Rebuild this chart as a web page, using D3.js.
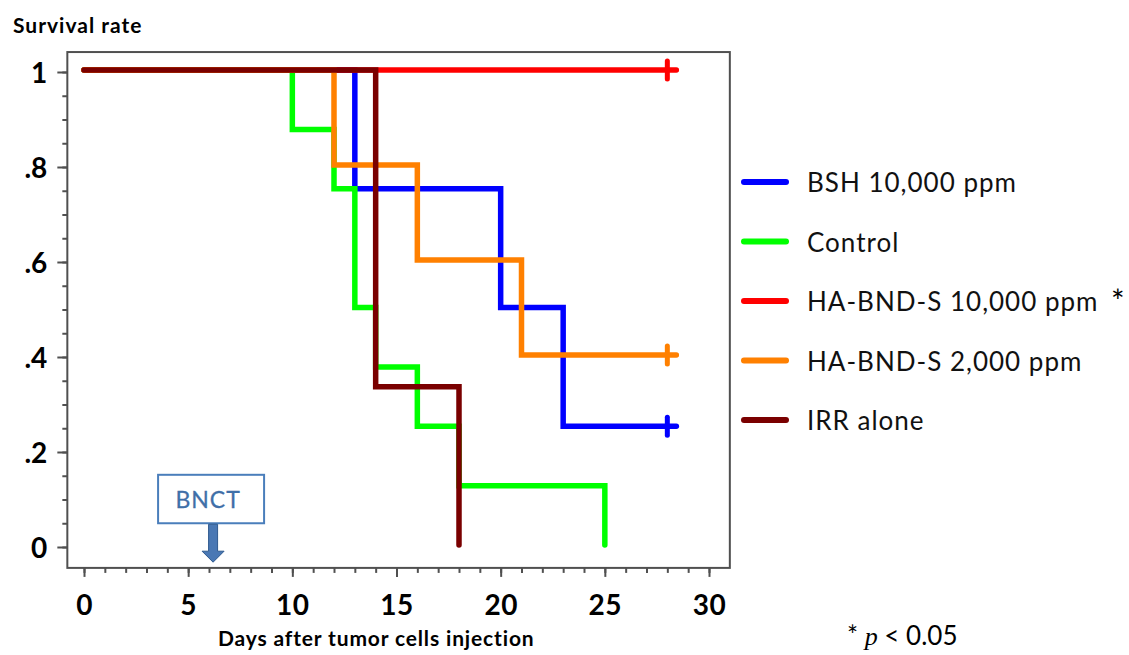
<!DOCTYPE html>
<html>
<head>
<meta charset="utf-8">
<script src="https://cdn.jsdelivr.net/npm/d3@7"></script>
<style>
  body { margin: 0; background: #fff; }
  svg { display: block; }
  .tick text { font-family: Lato, "Open Sans", sans-serif; font-weight: bold; fill: #000; }
</style>
</head>
<body>
<div id="container"></div>
<script>
// ---------------------------- DATA ---------------------------- //
var series_names = ["BSH 10,000 ppm", "Control", "HA-BND-S 10,000 ppm", "HA-BND-S 2,000 ppm", "IRR alone"];
var series_colors = ["#0000ff", "#00ff00", "#ff0000", "#ff8000", "#7a0000"];

// step survival curves: day of each event and survival after it
var days_bsh = [0, 13, 20, 23, 28];
var surv_bsh = [1, 0.75, 0.5, 0.25, 0.25];
var days_control = [0, 10, 12, 13, 14, 16, 18, 25];
var surv_control = [1, 0.875, 0.75, 0.5, 0.375, 0.25, 0.125, 0];
var days_ha10000 = [0, 28];
var surv_ha10000 = [1, 1];
var days_ha2000 = [0, 12, 16, 21, 28];
var surv_ha2000 = [1, 0.8, 0.6, 0.4, 0.4];
var days_irr = [0, 14, 18];
var surv_irr = [1, 0.333, 0];

// censored at end of follow up (day 28)
var censored = [true, false, true, true, false];

var x_ticks = [0, 5, 10, 15, 20, 25, 30];
var y_ticks = [0, 0.2, 0.4, 0.6, 0.8, 1];
var bnct_day = 6;

// --------------------------- SETUP ---------------------------- //
const width = 1129;
const height = 655;

const svg = d3.select("div#container").append("svg")
    .attr("width", width)
    .attr("height", height);

const xScale = d3.scaleLinear().domain([0, 30]).range([84, 709]);
const yScale = d3.scaleLinear().domain([0, 1]).range([547, 72]);

// frame around plot area
svg.append("rect")
    .attr("x", xScale(-0.8))
    .attr("y", yScale(1.042))
    .attr("width", xScale(31) - xScale(-0.8))
    .attr("height", yScale(-0.044) - yScale(1.042))
    .attr("fill", "none")
    .attr("stroke", "#505050")
    .attr("stroke-width", 2);

//---------------------------- AXES ----------------------------- //
const yLeft = xScale(-0.8);
const xBottom = yScale(-0.044);

function fmtY(d) {
  if (d === 1) return "1";
  if (d === 0) return "0";
  return d3.format(".1f")(d).replace("0.", ".");
}

svg.append("g")
    .attr("transform", "translate(" + yLeft + ",0)")
    .call(d3.axisLeft(yScale).tickValues(d3.range(0, 1.001, 0.05)).tickSize(5).tickFormat(""))
    .call(g => g.select(".domain").remove())
    .call(g => g.selectAll("line").attr("stroke", "#505050").attr("stroke-width", 2));

svg.append("g")
    .attr("transform", "translate(" + yLeft + ",0)")
    .call(d3.axisLeft(yScale).tickValues(y_ticks).tickSize(10).tickPadding(10).tickFormat(fmtY))
    .call(g => g.select(".domain").remove())
    .call(g => g.selectAll("line").attr("stroke", "#505050").attr("stroke-width", 2))
    .call(g => g.selectAll("text").style("font-size", "28px").attr("dy", "0.36em"));

svg.append("g")
    .attr("transform", "translate(0," + xBottom + ")")
    .call(d3.axisBottom(xScale).tickValues(d3.range(0, 31, 1)).tickSize(5).tickFormat(""))
    .call(g => g.select(".domain").remove())
    .call(g => g.selectAll("line").attr("stroke", "#505050").attr("stroke-width", 2));

svg.append("g")
    .attr("transform", "translate(0," + xBottom + ")")
    .call(d3.axisBottom(xScale).tickValues(x_ticks).tickSize(9).tickPadding(18))
    .call(g => g.select(".domain").remove())
    .call(g => g.selectAll("line").attr("stroke", "#505050").attr("stroke-width", 2))
    .call(g => g.selectAll("text").style("font-size", "28px").style("letter-spacing", "0.5px"));

svg.append("text")
    .attr("x", 13)
    .attr("y", 33)
    .style("font-family", "Lato, sans-serif")
    .style("font-weight", "bold")
    .style("font-size", "21px")
    .style("letter-spacing", "1px")
    .text("Survival rate");

svg.append("text")
    .attr("x", 218)
    .attr("y", 646)
    .style("font-family", "Lato, sans-serif")
    .style("font-weight", "bold")
    .style("font-size", "21px")
    .style("letter-spacing", "0.85px")
    .text("Days after tumor cells injection");

//---------------------------- BNCT ----------------------------- //
const bx = xScale(bnct_day + 0.1);
const arrowColor = "#4a78b4";
svg.append("rect")
    .attr("x", bx - 53)
    .attr("y", yScale(0.152))
    .attr("width", 106)
    .attr("height", yScale(0.05) - yScale(0.152))
    .attr("fill", "#fff")
    .attr("stroke", "#4a7ebb")
    .attr("stroke-width", 2);

svg.append("text")
    .attr("x", bx - 3)
    .attr("y", yScale(0.1) + 8)
    .attr("text-anchor", "middle")
    .style("font-family", "Lato, sans-serif")
    .style("font-size", "23px")
    .style("letter-spacing", "1px")
    .style("stroke", "#3f6fa8")
    .style("stroke-width", 0.3)
    .style("fill", "#3f6fa8")
    .text("BNCT");

const ay0 = yScale(0.05) + 1, ay1 = yScale(-0.032), ax = bx + 2;
svg.append("path")
    .attr("d", "M" + (ax - 4.5) + "," + ay0 + "V" + (ay1 - 11) + "H" + (ax - 11) +
               "L" + ax + "," + ay1 + "L" + (ax + 11) + "," + (ay1 - 11) +
               "H" + (ax + 4.5) + "V" + ay0 + "Z")
    .attr("fill", arrowColor)
    .attr("stroke", "#2f5a8f")
    .attr("stroke-width", 1);

//---------------------------- LINES ---------------------------- //
const all_days = [days_bsh, days_control, days_ha10000, days_ha2000, days_irr];
const all_surv = [surv_bsh, surv_control, surv_ha10000, surv_ha2000, surv_irr];

const sim_data = series_names.map(function(name, i) {
  return {
    id: name,
    color: series_colors[i],
    censored: censored[i],
    values: all_days[i].map(function(d, j) { return {day: d, surv: all_surv[i][j]}; })
  };
});

const line = d3.line()
    .curve(d3.curveStepAfter)
    .x(function(d) { return xScale(d.day); })
    .y(function(d) { return yScale(d.surv) - 2; });

const lines = svg.selectAll("g.series")
    .data(sim_data)
    .enter()
    .append("g")
    .attr("class", "series");

lines.append("path")
    .attr("d", function(d) { return line(d.values); })
    .attr("fill", "none")
    .attr("stroke", function(d) { return d.color; })
    .attr("stroke-width", 5.5)
    .attr("stroke-linecap", "round")
    .attr("stroke-linejoin", "miter");

// censor marks
lines.filter(function(d) { return d.censored; })
    .each(function(d) {
      const last = d.values[d.values.length - 1];
      const cx = xScale(last.day), cy = yScale(last.surv) - 2;
      const g = d3.select(this);
      g.append("line")
          .attr("x1", cx).attr("x2", cx + 9)
          .attr("y1", cy).attr("y2", cy)
          .attr("stroke", d.color).attr("stroke-width", 5.5).attr("stroke-linecap", "round");
      g.append("line")
          .attr("x1", cx).attr("x2", cx)
          .attr("y1", cy - 9).attr("y2", cy + 9)
          .attr("stroke", d.color).attr("stroke-width", 5).attr("stroke-linecap", "round");
    });

//---------------------------- LEGEND --------------------------- //
const legend = svg.selectAll("g.legend")
    .data(sim_data)
    .enter()
    .append("g")
    .attr("class", "legend")
    .attr("transform", function(d, i) { return "translate(0," + (182 + i * 59.5) + ")"; });

legend.append("line")
    .attr("x1", 744).attr("x2", 786)
    .attr("y1", 0).attr("y2", 0)
    .attr("stroke", function(d) { return d.color; })
    .attr("stroke-width", 6)
    .attr("stroke-linecap", "round");

legend.append("text")
    .attr("x", 807)
    .attr("y", 10)
    .style("font-family", "Lato, sans-serif")
    .style("font-size", "26px")
    .style("letter-spacing", "1px")
    .style("fill", "#111")
    .text(function(d) { return d.id; });

svg.append("text")
    .attr("x", 1111)
    .attr("y", 313)
    .style("font-family", "Lato, sans-serif")
    .style("font-size", "32px")
    .text("*");

svg.append("text")
    .attr("x", 847)
    .attr("y", 645)
    .style("font-family", "Lato, sans-serif")
    .style("font-size", "26px")
    .html("* <tspan font-style='italic' font-family='Liberation Serif, serif'>p</tspan> &lt; 0.05");
</script>
</body>
</html>
